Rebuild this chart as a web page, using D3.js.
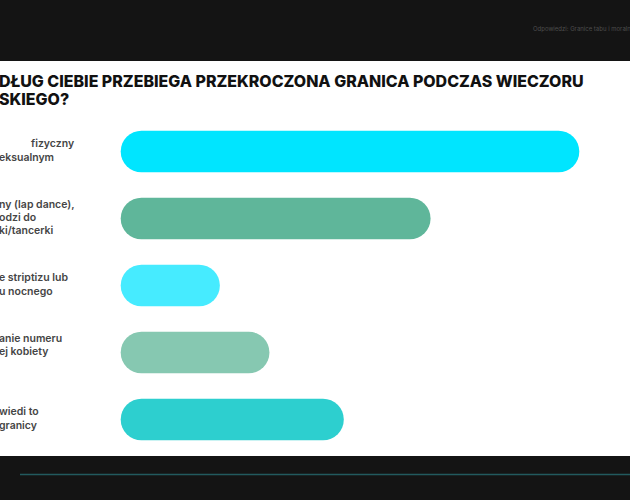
<!DOCTYPE html>
<html>
<head>
<meta charset="utf-8">
<script src="https://cdn.jsdelivr.net/npm/d3@7"></script>
<style>
  body { margin: 0; background: #141414; }
  svg { display: block; font-family: Inter, "Noto Sans", sans-serif; }
</style>
</head>
<body>
<svg id="chart" width="630" height="500"></svg>
<script>
// visible parts of the slide (it is cropped on the left)
const titleLines = ["DŁUG CIEBIE PRZEBIEGA PRZEKROCZONA GRANICA PODCZAS WIECZORU", "SKIEGO?"];
const headerText = "Odpowiedzi: Granice tabu i moralności";

const labelLines = [
  ["fizyczny", "eksualnym"],
  ["ny (lap dance),", "odzi do", "ki/tancerki"],
  ["e striptizu lub", "u nocnego"],
  ["anie numeru", "ej kobiety", ""],
  ["wiedi to", "granicy"]
];
const categories = labelLines.map(l => l.filter(s => s).join(" "));
const values = [37, 25, 8, 12, 18];
const barColors = ["#00e5ff", "#5fb69a", "#46ebff", "#86c8b1", "#2dcfcf"];

const width = 630, height = 500;
const svg = d3.select("#chart");

// Dark frame + white slide
svg.append("rect").attr("width", width).attr("height", height).attr("fill", "#141414");
svg.append("rect")
  .attr("x", 0).attr("y", 61)
  .attr("width", width).attr("height", 395)
  .attr("fill", "#ffffff");

svg.append("text")
  .attr("x", 533).attr("y", 30.5)
  .attr("font-size", 6)
  .attr("fill", "#4d4d4d")
  .text(headerText);

svg.append("line")
  .attr("x1", 20).attr("x2", width)
  .attr("y1", 474.5).attr("y2", 474.5)
  .attr("stroke", "#225a5e")
  .attr("stroke-width", 1.5);

// Title
const title = svg.append("text")
  .attr("font-size", 16)
  .attr("font-weight", 800)
  .attr("fill", "#111111");
title.selectAll("tspan")
  .data(titleLines)
  .enter()
  .append("tspan")
  .attr("x", -1)
  .attr("y", (d, i) => 87.3 + i * 17.7)
  .text(d => d);

// fit first line to the width seen in the slide
const firstLine = title.select("tspan").node();
const w = firstLine.getComputedTextLength();
title.attr("font-size", 16 * 585 / w);

// Scales
const margin = { left: 120.7 };
const x = d3.scaleLinear()
  .domain([0, d3.max(values)])
  .range([0, 458.6]);

const y = d3.scaleBand()
  .domain(categories)
  .range([130.7, 440.3])
  .paddingInner(0.38)
  .paddingOuter(0);

const bh = y.bandwidth();

// Bars
svg.append("g")
  .selectAll("rect")
  .data(values)
  .enter()
  .append("rect")
  .attr("x", margin.left)
  .attr("y", (d, i) => y(categories[i]))
  .attr("width", d => x(d))
  .attr("height", bh)
  .attr("rx", bh / 2)
  .attr("fill", (d, i) => barColors[i]);

// Labels (left-aligned, cut by the left edge)
const lineH = 13.4;
const labels = svg.append("g")
  .attr("font-size", 10.5)
  .attr("font-weight", 600)
  .attr("fill", "#454545");

labelLines.forEach((lines, i) => {
  const cy = y(categories[i]) + bh / 2 - 1.5;
  const t = labels.append("text");
  lines.forEach((s, j) => {
    t.append("tspan")
      .attr("x", i === 0 && j === 0 ? 31 : -1)
      .attr("y", cy + (j - (lines.length - 1) / 2) * lineH + 4)
      .text(s);
  });
});
</script>
</body>
</html>
